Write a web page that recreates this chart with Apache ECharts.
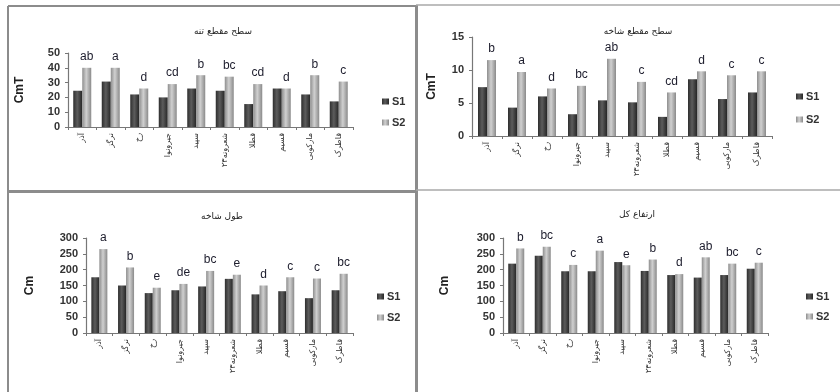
<!DOCTYPE html>
<html>
<head>
<meta charset="utf-8">
<script src="https://cdn.jsdelivr.net/npm/echarts@6/dist/echarts.min.js"></script>
<style>
html,body{margin:0;padding:0;background:#fff;}
#chart{width:840px;height:392px;}
</style>
</head>
<body>
<div id="chart"></div>
<script>
// Categories (cultivars)
const categories = ['آذر','نرگز','رخ','جیرونوا','سپید','شعرونه۲۳','قطلا','قسیم','مارکوبی','قاطرک'];

// Panel titles
const titles = ['سطح مقطع تنه','سطح مقطع شاخه','طول شاخه','ارتفاع کل'];

// Panel 1: trunk cross-section area
const trunkS1 = [24.5, 30.7, 22, 20, 26, 24.5, 15.5, 26, 22, 17.3];
const trunkS2 = [40, 40, 26, 29, 35, 34, 29, 26, 35, 30.7];
const trunkLetters = ['ab','a','d','cd','b','bc','cd','d','b','c'];

// Panel 2: branch cross-section area
const branchS1 = [7.4, 4.3, 6.0, 3.3, 5.4, 5.1, 2.9, 8.6, 5.6, 6.6];
const branchS2 = [11.5, 9.7, 7.2, 7.6, 11.7, 8.2, 6.6, 9.8, 9.2, 9.8];
const branchLetters = ['b','a','d','bc','ab','c','cd','d','c','c'];

// Panel 3: branch length
const lengthS1 = [176, 150, 126, 135, 147, 171, 122, 132, 110, 135];
const lengthS2 = [265, 207, 143, 155, 196, 184, 150, 176, 172, 187];
const lengthLetters = ['a','b','e','de','bc','e','d','c','c','bc'];

// Panel 4: total height
const heightS1 = [219, 244, 195, 195, 224, 196, 183, 175, 183, 203];
const heightS2 = [267, 272, 215, 260, 214, 232, 186, 239, 219, 222];
const heightLetters = ['b','bc','c','a','e','b','d','ab','bc','c'];

// Y axis settings
const yMax = [50, 15, 300, 300];
const yInterval = [10, 5, 50, 50];
const yNames = ['CmT','CmT','Cm','Cm'];

const s1Data = [trunkS1, branchS1, lengthS1, heightS1];
const s2Data = [trunkS2, branchS2, lengthS2, heightS2];
const letters = [trunkLetters, branchLetters, lengthLetters, heightLetters];

const chart = echarts.init(document.getElementById('chart'), null, {renderer:'canvas'});

const grids = [
  {left:68, right:487, top:53, bottom:265},
  {left:472, right:68, top:37, bottom:256},
  {left:86, right:487, top:238, bottom:59},
  {left:503, right:72, top:238, bottom:59}
];
const titlePos = [[218,27],[633,27],[217,212],[632,210]];
const legendPos = [[382,96],[796,91],[377,291],[806,291]];
const legendGap = [10,12,10,9];
const nameGaps = [42,34,50,52];
const barW = [9,9,8,8];

const fontFam = 'DejaVu Sans, sans-serif';

const s1Color = new echarts.graphic.LinearGradient(0,0,1,0,[
  {offset:0,color:'#2e2e2e'},{offset:0.45,color:'#5c5c5c'},{offset:1,color:'#262626'}]);
const s2Color = new echarts.graphic.LinearGradient(0,0,1,0,[
  {offset:0,color:'#8e8e8e'},{offset:0.45,color:'#d0d0d0'},{offset:1,color:'#8a8a8a'}]);

const option = {
  backgroundColor:'#ffffff',
  animation:false,
  title: titles.map((t,i)=>({
    text:t, left:titlePos[i][0], top:titlePos[i][1], textAlign:'center', textVerticalAlign:'middle',
    textStyle:{fontSize:9, fontWeight:'normal', color:'#222', fontFamily:fontFam}
  })),
  legend: legendPos.map((p,i)=>({
    data:['S1','S2'], orient:'vertical', left:p[0], top:p[1], itemGap:legendGap[i],
    itemWidth:7, itemHeight:6, icon:'rect', padding:0,
    textStyle:{fontSize:11, fontWeight:'bold', color:'#333', fontFamily:'Liberation Sans, sans-serif', padding:[0,0,0,-2]}
  })),
  grid: grids,
  xAxis: grids.map((g,i)=>({
    type:'category', gridIndex:i, data:categories,
    axisLine:{lineStyle:{color:'#777', width:1.2}},
    axisTick:{show:true, length:3, lineStyle:{color:'#777'}},
    axisLabel:{rotate:90, fontSize:8, color:'#333', fontFamily:fontFam, margin:6, interval:0}
  })),
  yAxis: grids.map((g,i)=>({
    type:'value', gridIndex:i, min:0, max:yMax[i], interval:yInterval[i],
    name:yNames[i], nameLocation:'middle', nameGap:nameGaps[i],
    nameTextStyle:{fontSize:12, fontWeight:'bold', color:'#222', fontFamily:'Liberation Sans, sans-serif'},
    axisLine:{show:true, lineStyle:{color:'#777', width:1.2}},
    axisTick:{show:true, length:3, lineStyle:{color:'#777'}},
    splitLine:{show:false},
    axisLabel:{fontSize:11, fontWeight:'bold', color:'#333', fontFamily:'Liberation Sans, sans-serif', margin:8}
  })),
  series: [],
  graphic: [
    {type:'line', shape:{x1:8,y1:6,x2:416,y2:6}, style:{stroke:'#8c8c8c', lineWidth:2}},
    {type:'line', shape:{x1:8,y1:6,x2:8,y2:392}, style:{stroke:'#8c8c8c', lineWidth:2}},
    {type:'line', shape:{x1:416.5,y1:5,x2:416.5,y2:392}, style:{stroke:'#8c8c8c', lineWidth:3}},
    {type:'line', shape:{x1:8,y1:191.5,x2:416,y2:191.5}, style:{stroke:'#8c8c8c', lineWidth:3}},
    {type:'line', shape:{x1:416,y1:190,x2:840,y2:190}, style:{stroke:'#a8a8a8', lineWidth:1.5}},
    {type:'line', shape:{x1:416,y1:5,x2:840,y2:5}, style:{stroke:'#a8a8a8', lineWidth:1.5}}
  ]
};

for (let i=0;i<4;i++){
  option.series.push({
    name:'S1', type:'bar', xAxisIndex:i, yAxisIndex:i, data:s1Data[i],
    barWidth:barW[i], barGap:'0%', itemStyle:{color:s1Color}
  });
  const lt = letters[i];
  option.series.push({
    name:'S2', type:'bar', xAxisIndex:i, yAxisIndex:i, data:s2Data[i],
    barWidth:barW[i], barGap:'0%', itemStyle:{color:s2Color},
    label:{show:true, position:'top', distance:5, formatter:(p)=>lt[p.dataIndex],
      fontSize:12, color:'#1c1c2c', fontFamily:'Liberation Sans, sans-serif'}
  });
}

chart.setOption(option);
</script>
</body>
</html>
